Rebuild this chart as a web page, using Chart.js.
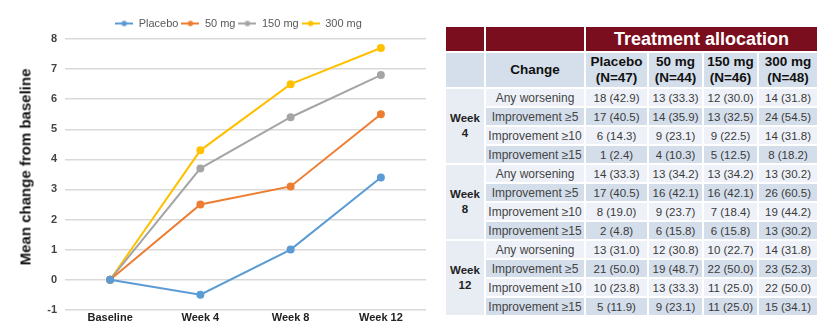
<!DOCTYPE html>
<html>
<head>
<title>Mean change from baseline</title>
<script src="https://cdn.jsdelivr.net/npm/chart.js@4.4.0/dist/chart.umd.min.js"></script>
<style>
  body { margin: 0; background: #fff; width: 825px; height: 326px; overflow: hidden; font-family: Arial, "Liberation Sans", sans-serif; }
  #chartBox { position: absolute; left: 0; top: 0; width: 431px; height: 327px; }
  #yTitle { position: absolute; left: 25px; top: 167px; transform: translate(-50%, -50%) rotate(-90deg); font-weight: bold; font-size: 15px; color: #111; white-space: nowrap; }
  #tbl { position: absolute; left: 444px; top: 25px; border-collapse: collapse; font-size: 11.5px; color: #3a3a3a; }
  #tbl td, #tbl th { border: 2px solid #fff; padding: 0; text-align: center; }
  #tbl .head1 th { background: #7b0e1e; color: #fff; height: 24px; font-size: 18px; font-weight: bold; }
  #tbl .head2 th { background: #d5dfeb; color: #111; height: 34px; font-size: 13.5px; font-weight: bold; line-height: 16px; }
  #tbl .week { background: #e8edf4; font-weight: bold; color: #222; line-height: 15px; font-size: 11.5px; }
  #tbl tr.light td { background: #eef2f8; }
  #tbl tr.dark td { background: #d4deeb; }
  #tbl tr td { height: 17px; }
  #tbl tr.dark td.week, #tbl tr.light td.week { background: #e8edf4; }
  #tbl tr.sep td { border-top: 2px solid #1a1a1a; }
  #tbl .lbl { font-size: 12px; color: #444; }
</style>
</head>
<body>
<div id="chartBox"><canvas id="lineChart"></canvas></div>
<div id="yTitle">Mean change from baseline</div>
<table id="tbl"></table>

<script>
  // line chart data
  const visits = ['Baseline', 'Week 4', 'Week 8', 'Week 12'];
  const placebo = [0, -0.5, 1.0, 3.4];
  const dose50 = [0, 2.5, 3.1, 5.5];
  const dose150 = [0, 3.7, 5.4, 6.8];
  const dose300 = [0, 4.3, 6.5, 7.7];

  // table data
  const weekLabels = ['4', '8', '12'];
  const changeLabels = ['Any worsening', 'Improvement \u22655', 'Improvement \u226510', 'Improvement \u226515'];
  const groupNames = ['Placebo', '50 mg', '150 mg', '300 mg'];
  const groupSizes = ['(N=47)', '(N=44)', '(N=46)', '(N=48)'];
  const week4Rows = [
    ['18 (42.9)', '13 (33.3)', '12 (30.0)', '14 (31.8)'],
    ['17 (40.5)', '14 (35.9)', '13 (32.5)', '24 (54.5)'],
    ['6 (14.3)', '9 (23.1)', '9 (22.5)', '14 (31.8)'],
    ['1 (2.4)', '4 (10.3)', '5 (12.5)', '8 (18.2)']
  ];
  const week8Rows = [
    ['14 (33.3)', '13 (34.2)', '13 (34.2)', '13 (30.2)'],
    ['17 (40.5)', '16 (42.1)', '16 (42.1)', '26 (60.5)'],
    ['8 (19.0)', '9 (23.7)', '7 (18.4)', '19 (44.2)'],
    ['2 (4.8)', '6 (15.8)', '6 (15.8)', '13 (30.2)']
  ];
  const week12Rows = [
    ['13 (31.0)', '12 (30.8)', '10 (22.7)', '14 (31.8)'],
    ['21 (50.0)', '19 (48.7)', '22 (50.0)', '23 (52.3)'],
    ['10 (23.8)', '13 (33.3)', '11 (25.0)', '22 (50.0)'],
    ['5 (11.9)', '9 (23.1)', '11 (25.0)', '15 (34.1)']
  ];

  const colors = ['#5b9bd5', '#ed7d31', '#a5a5a5', '#ffc000'];

  // small line+dot marker for the legend
  function legendMarker(color) {
    const c = document.createElement('canvas');
    c.width = 18; c.height = 8;
    const g = c.getContext('2d');
    g.strokeStyle = color; g.lineWidth = 2;
    g.beginPath(); g.moveTo(0, 4); g.lineTo(18, 4); g.stroke();
    g.fillStyle = color;
    g.beginPath(); g.arc(9, 4, 2.7, 0, Math.PI * 2); g.fill();
    return c;
  }

  const series = [
    { label: 'Placebo', data: placebo },
    { label: '50 mg', data: dose50 },
    { label: '150 mg', data: dose150 },
    { label: '300 mg', data: dose300 }
  ];

  const font = 'Arial, "Liberation Sans", sans-serif';

  new Chart(document.getElementById('lineChart'), {
    type: 'line',
    data: {
      labels: visits,
      datasets: series.map((s, i) => ({
        label: s.label,
        data: s.data,
        borderColor: colors[i],
        backgroundColor: colors[i],
        borderWidth: 2,
        pointStyle: 'circle',
        pointRadius: 3,
        pointHoverRadius: 3,
        tension: 0
      }))
    },
    options: {
      responsive: true,
      maintainAspectRatio: false,
      animation: false,
      layout: { padding: { left: 46, right: 0, top: 15, bottom: 0 } },
      plugins: {
        tooltip: { enabled: false },
        legend: {
          position: 'top',
          labels: {
            usePointStyle: true,
            pointStyleWidth: 18,
            boxHeight: 8,
            padding: 3,
            color: '#595959',
            font: { size: 11, family: font },
            generateLabels: chart => chart.data.datasets.map((ds, i) => ({
              text: ds.label,
              pointStyle: legendMarker(colors[i]),
              fillStyle: colors[i],
              strokeStyle: colors[i],
              lineWidth: 0,
              fontColor: '#595959',
              datasetIndex: i
            }))
          }
        }
      },
      scales: {
        x: {
          offset: true,
          grid: { display: false, drawTicks: false },
          border: { display: false },
          ticks: { padding: 2, color: '#222', font: { size: 11, weight: 'bold', family: font } }
        },
        y: {
          min: -1,
          max: 8,
          afterFit: axis => { axis.width = 19; },
          ticks: { stepSize: 1, color: '#444', padding: 8, font: { size: 11, weight: 'bold', family: font } },
          grid: { color: '#d9d9d9', lineWidth: 1.5, drawTicks: false },
          border: { display: false }
        }
      }
    }
  });

  // build the table
  const tbl = document.getElementById('tbl');
  const colWidths = [40, 100, 63, 55, 55, 60];
  let html = '<colgroup>' + colWidths.map(w => '<col style="width:' + w + 'px">').join('') + '</colgroup>';
  html += '<tr class="head1"><th></th><th></th><th colspan="4">Treatment allocation</th></tr>';
  html += '<tr class="head2"><th></th><th>Change</th>' +
    groupNames.map((g, i) => '<th>' + g + '<br>' + groupSizes[i] + '</th>').join('') + '</tr>';
  [week4Rows, week8Rows, week12Rows].forEach((rows, w) => {
    rows.forEach((cells, r) => {
      let cls = r % 2 === 0 ? 'light' : 'dark';
      if (r === 0 && w > 0) cls += ' sep';
      html += '<tr class="' + cls + '">';
      if (r === 0) html += '<td class="week" rowspan="4">Week<br>' + weekLabels[w] + '</td>';
      html += '<td class="lbl">' + changeLabels[r] + '</td>';
      html += cells.map(c => '<td>' + c + '</td>').join('');
      html += '</tr>';
    });
  });
  tbl.innerHTML = html;
</script>
</body>
</html>
